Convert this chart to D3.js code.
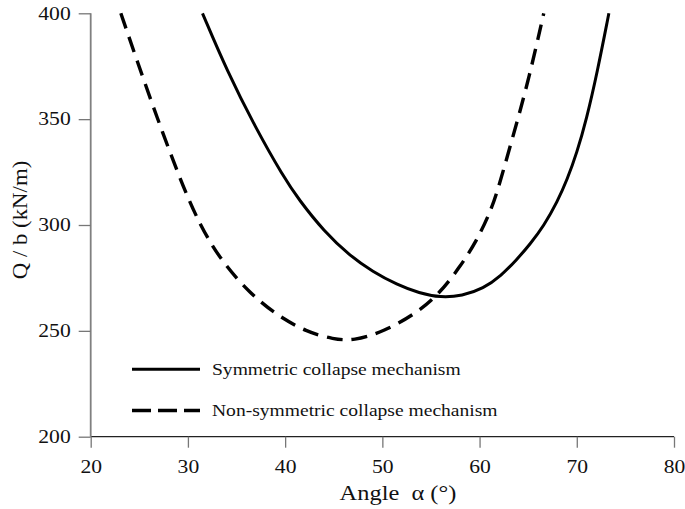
<!DOCTYPE html>
<html>
<head>
<meta charset="utf-8">
<script src="https://cdn.jsdelivr.net/npm/d3@7"></script>
<style>
  body { margin: 0; background: #fff; }
  svg { display: block; }
  text { font-family: "Liberation Serif", "Times New Roman", serif; fill: #111; }
</style>
</head>
<body>
<svg id="chart" width="685" height="509"></svg>
<script>
// Collapse load per unit width versus wedge angle
const xTicks = [20, 30, 40, 50, 60, 70, 80];
const yTicks = [200, 250, 300, 350, 400];

const alphaSym = [31.5, 34.0, 37.0, 39.8, 41.4, 44.0, 46.7, 49.0, 51.5, 53.8, 56.0, 58.2, 60.4, 62.2, 63.8, 65.2, 66.6, 68.0, 69.0, 70.0, 71.0, 72.1, 73.3];
const qSym     = [400, 373, 345.5, 323, 312, 297, 285.3, 278.0, 271.8, 267.8, 265.7, 266.5, 270.0, 276.0, 283.5, 291, 299.5, 311, 321.3, 334, 350, 372, 400];

const alphaNon = [23.1, 24.7, 26.8, 29.2, 31.25, 33.6, 36.4, 39.1, 42.2, 45.0, 47.0, 50.1, 53.5, 55.9, 58.0, 59.7, 61.2, 62.0, 63.2, 65.0, 66.6];
const qNon     = [400, 378.5, 351, 321.5, 299.5, 282, 267.7, 257.5, 249.5, 246, 245.3, 249.5, 258.3, 267.7, 280.3, 292.5, 307, 318.5, 338, 367.5, 400];

const seriesNames = ["Symmetric collapse mechanism", "Non-symmetric collapse mechanism"];
const xTitle = "Angle\u00a0 \u03b1 (\u00b0)";
const yTitle = "Q / b (kN/m)";

const svg = d3.select("#chart");
const x = d3.scaleLinear().domain([20, 80]).range([90.7, 674]);
const y = d3.scaleLinear().domain([200, 400]).range([436.7, 13.3]);

// Times-like glyphs set slightly wide
function widen(sel, k) {
  sel.each(function () {
    const w = this.getComputedTextLength();
    d3.select(this).attr("textLength", w * k).attr("lengthAdjust", "spacingAndGlyphs");
  });
}

// Axes
const gx = svg.append("g").attr("transform", `translate(0,${y(200)})`)
  .call(d3.axisBottom(x).tickValues(xTicks).tickSize(11).tickPadding(13).tickFormat(d3.format("d")));
gx.select(".domain").attr("stroke", "#222").attr("stroke-width", 1.3).attr("d", `M${x(20)},0H${x(80)}`);
gx.selectAll(".tick line").attr("stroke", "#777").attr("stroke-width", 1.3);
gx.selectAll(".tick text").attr("font-size", 18).attr("font-family", null).attr("fill", "#111");

const gy = svg.append("g").attr("transform", `translate(${x(20)},0)`)
  .call(d3.axisLeft(y).tickValues(yTicks).tickSize(12).tickPadding(8).tickFormat(d3.format("d")));
gy.select(".domain").attr("stroke", "#808080").attr("stroke-width", 1.8).attr("d", `M0,${y(200)}V${y(400)}`);
gy.selectAll(".tick line").attr("stroke", "#777").attr("stroke-width", 1.3);
gy.selectAll(".tick text").attr("font-size", 18).attr("font-family", null).attr("fill", "#111");
gx.attr("font-family", null);
gy.attr("font-family", null);

widen(svg.selectAll(".tick text"), 1.2);

// Curves
const line = d3.line().x(d => x(d[0])).y(d => y(d[1])).curve(d3.curveBasis);
const symPts = alphaSym.map((a, i) => [a, qSym[i]]);
const nonPts = alphaNon.map((a, i) => [a, qNon[i]]);

svg.append("path").datum(symPts).attr("d", line)
  .attr("fill", "none").attr("stroke", "#000").attr("stroke-width", 3);
svg.append("path").datum(nonPts).attr("d", line)
  .attr("fill", "none").attr("stroke", "#000").attr("stroke-width", 3.4)
  .attr("stroke-dasharray", "16,9");

// Legend
const legend = [
  { name: seriesNames[0], y: 369.3, dash: null, w: 3 },
  { name: seriesNames[1], y: 410.5, dash: "19,7", w: 3.6 }
];
legend.forEach(l => {
  svg.append("line").attr("x1", 132).attr("x2", 200).attr("y1", l.y).attr("y2", l.y)
    .attr("stroke", "#000").attr("stroke-width", l.w).attr("stroke-dasharray", l.dash);
  const t = svg.append("text").attr("x", 212).attr("y", l.y + 5.5)
    .attr("font-size", 17).text(l.name);
  widen(t, 1.15);
});

// Axis titles
const tx = svg.append("text").attr("x", 398).attr("y", 500).attr("text-anchor", "middle")
  .attr("font-size", 20).style("white-space", "pre").text(xTitle);
widen(tx, 1.22);
const ty = svg.append("text").attr("transform", `translate(27,220) rotate(-90)`)
  .attr("text-anchor", "middle").attr("font-size", 20).text(yTitle);
widen(ty, 1.14);
</script>
</body>
</html>
